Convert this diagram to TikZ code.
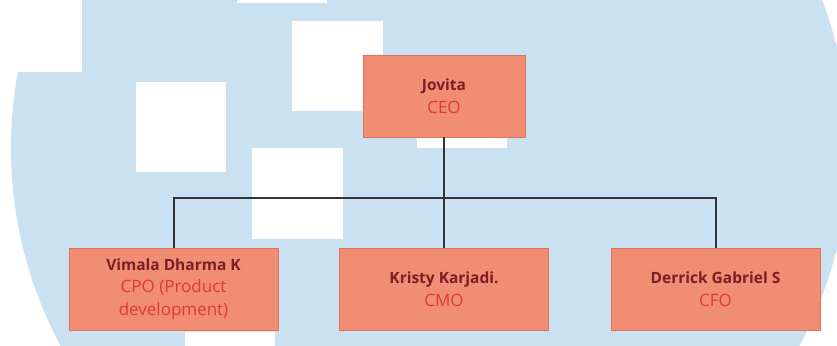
\documentclass[tikz,border=0pt]{standalone}
\usepackage{fontspec}
\setmainfont{Open Sans}
\definecolor{skyblue}{RGB}{201,225,241}
\definecolor{cardfill}{RGB}{240,141,114}
\definecolor{cardline}{RGB}{226,112,92}
\definecolor{namered}{RGB}{122,30,40}
\definecolor{rolered}{RGB}{222,58,52}
\definecolor{wirecol}{RGB}{52,52,52}
\newcommand\personname[1]{{\fontsize{15.5}{22.5}\selectfont\bfseries\color{namered}#1}}
\begin{document}
\begin{tikzpicture}[x=1pt,y=-1pt,
  card/.style={draw=cardline, line width=0.8pt, fill=cardfill,
    minimum height=82pt, inner sep=0pt, align=center,
    font=\fontsize{17}{22.5}\selectfont, text=rolered},
  topcard/.style={card, minimum width=162pt},
  subcard/.style={card, minimum width=209pt},
  wire/.style={draw=wirecol, line width=2pt},
  blank/.style={fill=white}]
\useasboundingbox (0,0) rectangle (837,345);
% backdrop: pale disc with scattered white squares
\begin{scope}
  \clip (0,0) rectangle (837,345);
  \fill[skyblue] (430,148) circle (419pt);
  \fill[blank] (-10,-10) rectangle (82,72);
  \fill[blank] (237,-90) rectangle (327,3);
  \fill[blank] (292,21) rectangle (383,111);
  \fill[blank] (136,82) rectangle (226,172);
  \fill[blank] (252,148) rectangle (343,239);
  \fill[blank] (185,332) rectangle (275,422);
  \fill[blank] (417,58) rectangle (507,148);
\end{scope}
% people
\node[topcard] (ceo) at (444,96) {\personname{Jovita}\\CEO};
\node[subcard] (cpo) at (173.5,289) {\personname{Vimala Dharma K}\\CPO (Product\\development)};
\node[subcard] (cmo) at (444,289) {\personname{Kristy Karjadi.}\\CMO};
\node[subcard] (cfo) at (715.5,289) {\personname{Derrick Gabriel S}\\CFO};
% reporting lines
\coordinate (bus) at (444,198);
\draw[wire] (ceo.south) -- (bus);
\draw[wire] (cpo.north) |- (bus) -| (cfo.north);
\draw[wire] (bus) -- (cmo.north);
\end{tikzpicture}
\end{document}
